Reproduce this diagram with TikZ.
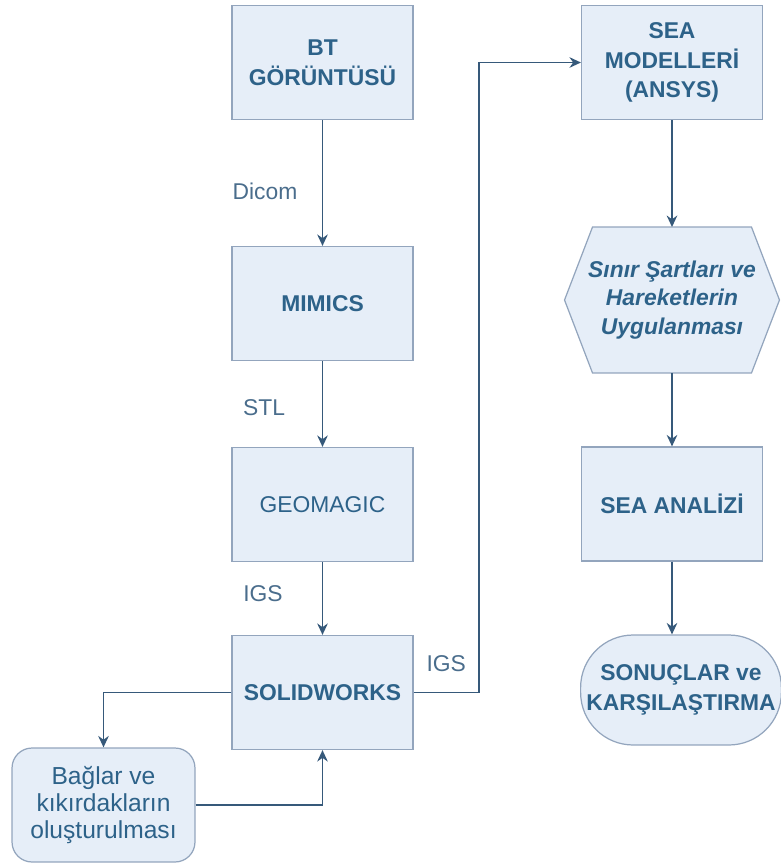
\documentclass[tikz,border=0pt]{standalone}
\usepackage{fontspec}
\setmainfont{Liberation Sans}
\usetikzlibrary{positioning,backgrounds,arrows.meta}
\definecolor{boxfill}{HTML}{E6EEF8}
\definecolor{boxedge}{HTML}{93A5BD}
\definecolor{boxtext}{HTML}{2D6289}
\definecolor{flowline}{HTML}{36597A}
\definecolor{lbltext}{HTML}{4A6D8C}
\begin{document}
\begin{tikzpicture}[
  x=0.02cm, y=-0.02cm,
  >={Stealth[length=6.5pt,width=6pt]},
  stepbox/.style={draw=boxedge,fill=boxfill,line width=0.7pt,minimum width=3.62cm,minimum height=2.28cm,align=center,text=boxtext,font=\fontsize{13}{17}\selectfont\bfseries},
  softbox/.style={stepbox,rounded corners=0.4cm,minimum width=3.66cm,font=\fontsize{14}{15.5}\selectfont},
  endbox/.style={stepbox,rounded corners=1.05cm,minimum width=3.86cm,minimum height=2.2cm},
  hexbox/.style={minimum width=4.3cm,minimum height=2.92cm,inner sep=0pt,outer sep=0pt,align=center,text=boxtext,font=\fontsize{13}{16}\selectfont\bfseries\itshape},
  flow/.style={->,draw=flowline,line width=1.1pt},
  lbl/.style={text=lbltext,font=\fontsize{13}{15}\selectfont}
]
  \useasboundingbox (0,0) rectangle (781,866);

  % left column
  \node[stepbox] (bt)  at (322.5,62.5) {BT\\GÖRÜNTÜSÜ};
  \node[stepbox] (mim) at (322.5,303.5) {MIMICS};
  \node[stepbox,font=\fontsize{13}{17}\selectfont] (geo) at (322.5,504.5) {GEOMAGIC};
  \node[stepbox] (sw)  at (322.5,692.5) {SOLIDWORKS};
  \node[softbox] (bag) at (103.5,805) {Bağlar ve\\kıkırdakların\\oluşturulması};

  % right column
  \node[stepbox] (sea) at (672,62.5) {SEA\\MODELLERİ\\(ANSYS)};
  \node[hexbox]  (sart) at (672,300) {Sınır Şartları ve\\Hareketlerin\\Uygulanması};
  \node[stepbox] (analiz) at (672,504) {SEA ANALİZİ};
  \node[endbox]  (sonuc) at (681,690) {SONUÇLAR ve\\KARŞILAŞTIRMA};

  \begin{scope}[on background layer]
    \draw[draw=boxedge,fill=boxfill,line width=0.7pt]
      (sart.west) -- ([xshift=0.56cm]sart.north west) -- ([xshift=-0.56cm]sart.north east)
      -- (sart.east) -- ([xshift=-0.56cm]sart.south east) -- ([xshift=0.56cm]sart.south west) -- cycle;
  \end{scope}

  \coordinate (igsbend) at (479,0);

  \draw[flow] (bt) -- node[lbl,pos=0.57,xshift=-1.15cm] {Dicom} (mim);
  \draw[flow] (mim) -- node[lbl,pos=0.54,xshift=-1.17cm] {STL} (geo);
  \draw[flow] (geo) -- node[lbl,pos=0.43,xshift=-1.19cm] {IGS} (sw);
  \draw[flow] (sw.west) -| (bag.north);
  \draw[flow] (bag.east) -| (sw.south);
  \draw[flow] (sw.east) -- node[lbl,above=8pt] {IGS} (sw.east -| igsbend) |- (sea.west);

  \draw[flow] (sea) -- (sart);
  \draw[flow] (sart) -- (analiz);
  \draw[flow] (analiz) -- (analiz |- sonuc.north);
\end{tikzpicture}
\end{document}
